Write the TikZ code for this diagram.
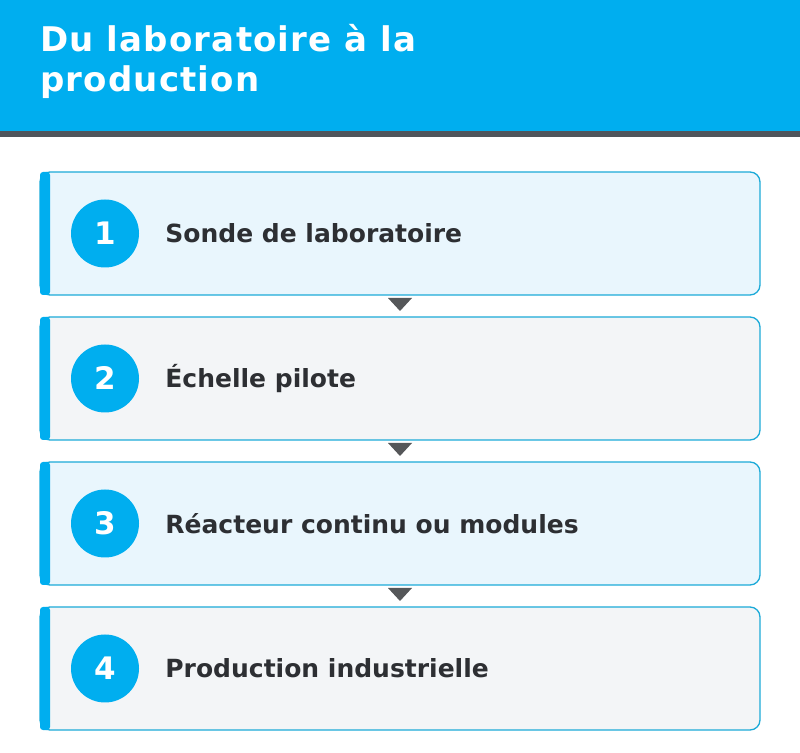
\documentclass[tikz,border=0pt]{standalone}
\usepackage{fontspec}
\setmainfont{DejaVu Sans}
\newfontfamily\titlefont[LetterSpace=3.5]{DejaVu Sans}
\usetikzlibrary{positioning}
\definecolor{headblue}{HTML}{00AEEF}
\definecolor{headbar}{HTML}{4F555B}
\definecolor{boxline}{HTML}{1CAAD8}
\definecolor{boxblue}{HTML}{E9F6FD}
\definecolor{boxgray}{HTML}{F3F5F7}
\definecolor{labeltext}{HTML}{2D2F33}
\definecolor{arrowgray}{HTML}{555759}
\tikzset{
    stage/.style={rectangle, draw=boxline, line width=1.3pt, rounded corners=10pt, minimum width=720pt, minimum height=123pt, outer sep=0pt},
    num/.style={circle, fill=headblue, text=white, minimum size=68pt, inner sep=0pt, font=\fontsize{31}{31}\selectfont\bfseries},
    lbl/.style={text=labeltext, font=\fontsize{25}{25}\selectfont\bfseries, anchor=west, inner sep=0pt},
    accent/.style={fill=headblue, rounded corners=3pt},
    marker/.style={fill=arrowgray}
}
\begin{document}
\begin{tikzpicture}[x=1pt, y=1pt]
                \useasboundingbox (0,0) rectangle (800,752);
                % header
                \fill[headblue] (0,752) rectangle (800,621);
                \fill[headbar] (0,621) rectangle (800,615);
                \node[text=white, anchor=base west, inner sep=0pt, align=left, font=\titlefont\fontsize{34}{40}\selectfont\bfseries] (title) at (40,660) {Du laboratoire à la\\production};

                % stages
                \node[stage, fill=boxblue] (s1) at (400,518.5) {};
                \node[stage, fill=boxgray] (s2) [below=22pt of s1] {};
                \node[stage, fill=boxblue] (s3) [below=22pt of s2] {};
                \node[stage, fill=boxgray] (s4) [below=22pt of s3] {};

                \foreach \i in {1,...,4}
                    \fill[accent] (s\i.north west) rectangle ([xshift=10pt]s\i.south west);

                \node[num] (c1) at ([xshift=65pt]s1.west) {1};
                \node[num] (c2) at ([xshift=65pt]s2.west) {2};
                \node[num] (c3) at ([xshift=65pt]s3.west) {3};
                \node[num] (c4) at ([xshift=65pt]s4.west) {4};

                \node[lbl] (t1) [right=26pt of c1] {Sonde de laboratoire};
                \node[lbl] (t2) [right=26pt of c2] {Échelle pilote};
                \node[lbl] (t3) [right=26pt of c3] {Réacteur continu ou modules};
                \node[lbl] (t4) [right=26pt of c4] {Production industrielle};

                % markers between stages
                \fill[marker] ([shift={(-12pt,-3pt)}]s1.south) -- ([shift={(12pt,-3pt)}]s1.south) -- ([yshift=-16pt]s1.south) -- cycle;
                \fill[marker] ([shift={(-12pt,-3pt)}]s2.south) -- ([shift={(12pt,-3pt)}]s2.south) -- ([yshift=-16pt]s2.south) -- cycle;
                \fill[marker] ([shift={(-12pt,-3pt)}]s3.south) -- ([shift={(12pt,-3pt)}]s3.south) -- ([yshift=-16pt]s3.south) -- cycle;
            \end{tikzpicture}
\end{document}
